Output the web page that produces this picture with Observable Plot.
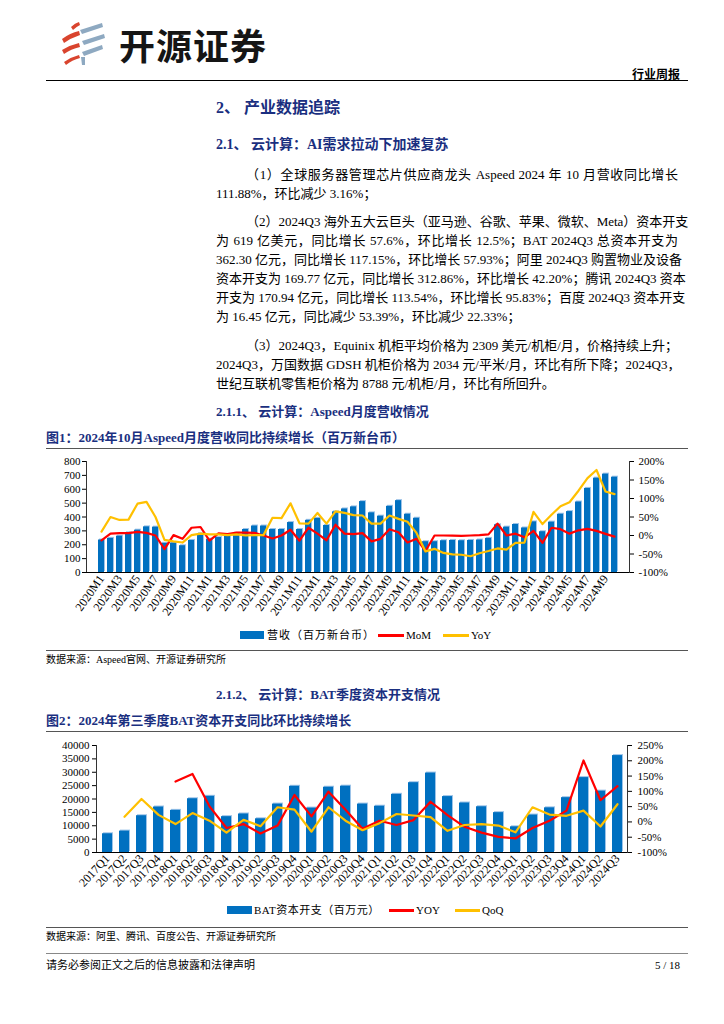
<!DOCTYPE html>
<html><head><meta charset="utf-8">
<script src="https://cdn.jsdelivr.net/npm/d3@7"></script>
<script src="https://cdn.jsdelivr.net/npm/@observablehq/plot@0.6"></script>
<style>
body{margin:0;background:#fff;}
#page{position:relative;width:724px;height:1024px;overflow:hidden;font-family:"Liberation Serif","Noto Sans CJK SC",serif;color:#000;background:#fff;}
.abs{position:absolute;white-space:nowrap;}
.h{color:#1a2f80;font-weight:bold;}
.p{position:absolute;left:216px;width:462px;font-size:13px;line-height:19px;height:19px;white-space:nowrap;text-align:justify;text-align-last:justify;}
.p.ind{left:246px;width:432px;}
.p.last{text-align-last:left;}
.rule{position:absolute;left:46px;width:642px;height:0;}
.lg{position:absolute;font-size:11px;line-height:14px;white-space:nowrap;font-family:"Liberation Serif","Noto Sans CJK SC",serif;}
</style></head>
<body><div id="page">
<svg class="abs" style="left:58px;top:20px" width="56" height="46" viewBox="0 0 56 46">
  <path d="M13 7 Q17 3 21 2 L22 5 Q18 7 15 10 Z" fill="#d9442e"/>
  <path d="M4 19 Q12 13 21 11 L22 15 Q13 18 6 23 Z" fill="#d9442e"/>
  <path d="M4 30 Q12 25 21 23 L22 27 Q13 29 6 34 Z" fill="#d9442e"/>
  <path d="M6 42 Q13 37 21 35 L22 38 Q14 40 8 45 Z" fill="#d9442e"/>
  <path d="M22 10 L44 3 L45 7 L24 14 Z" fill="#8ea9c1"/>
  <path d="M24 21 L46 14 L47 18 L26 25 Z" fill="#8ea9c1"/>
  <path d="M24 32 L44 25 L45 29 L26 36 Z" fill="#8ea9c1"/>
  <path d="M23 37 L27 37 L27 45 L24 45 Z" fill="#8ea9c1"/>
</svg>
<div class="abs" style="left:119px;top:24px;font-size:36px;line-height:40px;font-weight:bold;font-family:'Noto Sans CJK SC';color:#151515;letter-spacing:1px">开源证券</div>
<div class="abs" style="left:632px;top:66px;font-size:12px;line-height:16px;font-weight:bold;font-family:'Noto Sans CJK SC'">行业周报</div>
<div class="rule" style="top:80px;border-top:1.5px solid #000"></div>

<div class="abs h" style="left:216px;top:97px;font-size:16px;line-height:22px">2、 产业数据追踪</div>
<div class="abs h" style="left:216px;top:135px;font-size:14px;line-height:20px">2.1、 云计算：AI需求拉动下加速复苏</div>

<div class="p ind" style="top:165px">（1）全球服务器管理芯片供应商龙头 Aspeed 2024 年 10 月营收同比增长</div>
<div class="p last" style="top:184px">111.88%，环比减少 3.16%；</div>

<div class="p ind" style="top:212px">（2）2024Q3 海外五大云巨头（亚马逊、谷歌、苹果、微软、Meta）资本开支</div>
<div class="p" style="top:231px">为 619 亿美元，同比增长 57.6%，环比增长 12.5%；BAT 2024Q3 总资本开支为</div>
<div class="p" style="top:250px">362.30 亿元，同比增长 117.15%，环比增长 57.93%；阿里 2024Q3 购置物业及设备</div>
<div class="p" style="top:269px">资本开支为 169.77 亿元，同比增长 312.86%，环比增长 42.20%；腾讯 2024Q3 资本</div>
<div class="p" style="top:288px">开支为 170.94 亿元，同比增长 113.54%，环比增长 95.83%；百度 2024Q3 资本开支</div>
<div class="p last" style="top:307px">为 16.45 亿元，同比减少 53.39%，环比减少 22.33%；</div>

<div class="p ind" style="top:336px">（3）2024Q3，Equinix 机柜平均价格为 2309 美元/机柜/月，价格持续上升；</div>
<div class="p" style="top:355px">2024Q3，万国数据 GDSH 机柜价格为 2034 元/平米/月，环比有所下降；2024Q3，</div>
<div class="p last" style="top:374px">世纪互联机零售柜价格为 8788 元/机柜/月，环比有所回升。</div>

<div class="abs h" style="left:216px;top:402px;font-size:13px;line-height:20px">2.1.1、 云计算：Aspeed月度营收情况</div>
<div class="abs h" style="left:46px;top:428px;font-size:13px;line-height:20px">图1：2024年10月Aspeed月度营收同比持续增长（百万新台币）</div>
<div class="rule" style="top:448px;border-top:1px solid #555"></div>
<div id="c1" class="abs" style="left:46px;top:450px"></div>
<div class="lg" style="left:240px;top:631px;width:24px;height:8px;background:#0070C0"></div>
<div class="lg" style="left:267px;top:628px;letter-spacing:1px">营收（百万新台币）</div>
<div class="lg" style="left:378px;top:634px;width:26px;height:2.5px;background:#FF0000"></div>
<div class="lg" style="left:406px;top:628px">MoM</div>
<div class="lg" style="left:443px;top:634px;width:26px;height:2.5px;background:#FFC000"></div>
<div class="lg" style="left:471px;top:628px">YoY</div>
<div class="rule" style="top:650px;border-top:1px solid #555"></div>
<div class="abs" style="left:46px;top:653px;font-size:10px;line-height:14px">数据来源：Aspeed官网、开源证券研究所</div>

<div class="abs h" style="left:216px;top:685px;font-size:13px;line-height:20px">2.1.2、 云计算：BAT季度资本开支情况</div>
<div class="abs h" style="left:46px;top:711px;font-size:13px;line-height:20px">图2：2024年第三季度BAT资本开支同比环比持续增长</div>
<div class="rule" style="top:731px;border-top:1px solid #555"></div>
<div id="c2" class="abs" style="left:46px;top:735px"></div>
<div class="lg" style="left:227px;top:906px;width:25px;height:8px;background:#0070C0"></div>
<div class="lg" style="left:254px;top:903px;letter-spacing:0.5px">BAT资本开支（百万元）</div>
<div class="lg" style="left:389px;top:909px;width:25px;height:2.5px;background:#FF0000"></div>
<div class="lg" style="left:416px;top:903px">YOY</div>
<div class="lg" style="left:455px;top:909px;width:25px;height:2.5px;background:#FFC000"></div>
<div class="lg" style="left:482px;top:903px">QoQ</div>
<div class="rule" style="top:927px;border-top:1px solid #555"></div>
<div class="abs" style="left:46px;top:930px;font-size:10px;line-height:14px">数据来源：阿里、腾讯、百度公告、开源证券研究所</div>

<div class="rule" style="top:953px;border-top:1px solid #888"></div>
<div class="abs" style="left:46px;top:958px;font-size:11px;line-height:15px">请务必参阅正文之后的信息披露和法律声明</div>
<div class="abs" style="left:640px;top:958px;width:40px;text-align:right;font-size:11px;line-height:15px">5 / 18</div>
</div>
<script>
// ---------- Chart 1: Aspeed monthly revenue ----------
const months = ["2020M1","2020M2","2020M3","2020M4","2020M5","2020M6","2020M7","2020M8","2020M9","2020M10","2020M11","2020M12",
"2021M1","2021M2","2021M3","2021M4","2021M5","2021M6","2021M7","2021M8","2021M9","2021M10","2021M11","2021M12",
"2022M1","2022M2","2022M3","2022M4","2022M5","2022M6","2022M7","2022M8","2022M9","2022M10","2022M11","2022M12",
"2023M1","2023M2","2023M3","2023M4","2023M5","2023M6","2023M7","2023M8","2023M9","2023M10","2023M11","2023M12",
"2024M1","2024M2","2024M3","2024M4","2024M5","2024M6","2024M7","2024M8","2024M9","2024M10"];
const monthLabels = ["2020M1","2020M3","2020M5","2020M7","2020M9","2020M11","2021M1","2021M3","2021M5","2021M7","2021M9","2021M11",
"2022M1","2022M3","2022M5","2022M7","2022M9","2022M11","2023M1","2023M3","2023M5","2023M7","2023M9","2023M11",
"2024M1","2024M3","2024M5","2024M7","2024M9"];
const revenue = [234,246,262,286,305,329,327,210,212,193,231,279,
240,252,262,283,310,335,335,310,310,360,310,376,
390,339,437,458,473,511,430,406,477,518,420,391,
222,222,229,231,229,231,234,246,344,327,346,321,
365,294,363,420,439,508,606,680,709,687];
const momPct = [-13,5,6.5,6.5,10,7,0,-37,1,-9,21,23,
-14,5.6,4,8,8,7,0,-8,0,15.5,-14,21,
5,-13,29,5,3.5,6.5,-16,-9,17,9,-19,-9,
-42,0,0,-0.5,-1,0,1,3,32,0,5,-5,
12.5,-20,21,17,5,14,18,12.5,4.5,-3.16];
const yoyPct = [10.6,50,42,43,86,91,50,-12,-16,-19,1,5,
3,3,1,3,0.5,1,1,48,47,87,33,32,
61,32,65,61,55,54,32,32,54,45,37,7,
-43,-36,-47,-51,-52,-56,-48,-42,-35,-38,-20,-19,
64,31,56,79,90,121,155,177,119,111.88];
const revTicks = [0,100,200,300,400,500,600,700,800];
const pctTicks1 = [-100,-50,0,50,100,150,200];

// ---------- Chart 2: BAT quarterly capex ----------
const quarters = ["2017Q1","2017Q2","2017Q3","2017Q4","2018Q1","2018Q2","2018Q3","2018Q4","2019Q1","2019Q2","2019Q3","2019Q4",
"2020Q1","2020Q2","2020Q3","2020Q4","2021Q1","2021Q2","2021Q3","2021Q4","2022Q1","2022Q2","2022Q3","2022Q4",
"2023Q1","2023Q2","2023Q3","2023Q4","2024Q1","2024Q2","2024Q3"];
const capex = [7000,8000,13750,17000,15750,20100,21000,13400,14400,12600,18100,24750,
16600,24400,24800,18100,17300,21750,26100,29700,20900,18500,17100,14900,
9600,14000,16700,20500,28000,22940,36230];
const capexYoy = [null,null,null,null,132,157,51,-20,-7,-38,-12,88,
18,99,40,-22,4,-10,6,66,22,-16,-35,-49,
-54,-20,4,37,201,71,117.15];
const capexQoq = [null,17,75,23,-7,29,4,-35,7,-14,48,40,
-32,48,4,-27,-4,26,21,16,-29,-10,-7,-12,
-34,48,24,20,37,-15,57.93];
const capexTicks = [0,5000,10000,15000,20000,25000,30000,35000,40000];
const pctTicks2 = [-100,-50,0,50,100,150,200,250];

const BLUE = "#0070C0", EDGE = "#9cc3e8", RED = "#FF0000", GOLD = "#FFC000";
const baseStyle = {fontFamily: "'Liberation Serif', serif", fontSize: "11px", color: "#000", background: "transparent", overflow: "visible"};

// chart 1
const L1 = p => (p + 100) * 800 / 300;
const P1 = v => v * 300 / 800 - 100;
const rows1 = months.map((m, i) => ({m, rev: revenue[i], mom: momPct[i], yoy: yoyPct[i]}));
const chart1 = Plot.plot({
  width: 642, height: 172, marginLeft: 40, marginRight: 59, marginTop: 11, marginBottom: 50,
  style: baseStyle,
  x: {domain: months, type: "band", paddingInner: 0.36, paddingOuter: 0.18, axis: null, label: null},
  y: {domain: [0, 800], axis: null, label: null},
  marks: [
    Plot.barY(rows1, {x: "m", y: "rev", fill: EDGE, dx: 1, dy: -1}),
    Plot.barY(rows1, {x: "m", y: "rev", fill: BLUE}),
    Plot.line(rows1, {x: "m", y: d => L1(d.mom), stroke: RED, strokeWidth: 2.2}),
    Plot.line(rows1, {x: "m", y: d => L1(d.yoy), stroke: GOLD, strokeWidth: 2.2}),
    Plot.frame({anchor: "left", stroke: "#333"}),
    Plot.frame({anchor: "right", stroke: "#333"}),
    Plot.ruleY([0], {stroke: "#000"}),
    Plot.axisY({anchor: "left", ticks: revTicks, tickSize: 4, tickPadding: 2, label: null, fontSize: 11}),
    Plot.axisY({anchor: "right", ticks: pctTicks1.map(L1), tickFormat: v => Math.round(P1(v)) + "%", tickSize: 4, tickPadding: 5, label: null, fontSize: 11}),
    Plot.axisX({ticks: monthLabels, tickRotate: -55, tickSize: 0, tickPadding: 4, label: null, fontSize: 12})
  ]
});
document.getElementById("c1").appendChild(chart1);

// chart 2
const L2 = p => (p + 100) * 40000 / 350;
const P2 = v => v * 350 / 40000 - 100;
const rows2 = quarters.map((q, i) => ({q, cap: capex[i], yoy: capexYoy[i], qoq: capexQoq[i]}));
const chart2 = Plot.plot({
  width: 642, height: 167, marginLeft: 50, marginRight: 61, marginTop: 10, marginBottom: 50,
  style: baseStyle,
  x: {domain: quarters, type: "band", paddingInner: 0.42, paddingOuter: 0.21, axis: null, label: null},
  y: {domain: [0, 40000], axis: null, label: null},
  marks: [
    Plot.barY(rows2, {x: "q", y: "cap", fill: EDGE, dx: 1, dy: -1}),
    Plot.barY(rows2, {x: "q", y: "cap", fill: BLUE}),
    Plot.line(rows2, {x: "q", y: d => d.yoy == null ? NaN : L2(d.yoy), stroke: RED, strokeWidth: 2.2}),
    Plot.line(rows2, {x: "q", y: d => d.qoq == null ? NaN : L2(d.qoq), stroke: GOLD, strokeWidth: 2.2}),
    Plot.frame({anchor: "left", stroke: "#333"}),
    Plot.frame({anchor: "right", stroke: "#333"}),
    Plot.ruleY([0], {stroke: "#000"}),
    Plot.axisY({anchor: "left", ticks: capexTicks, tickFormat: d => String(d), tickSize: 4, tickPadding: 3, label: null, fontSize: 11}),
    Plot.axisY({anchor: "right", ticks: pctTicks2.map(L2), tickFormat: v => Math.round(P2(v)) + "%", tickSize: 4, tickPadding: 6, label: null, fontSize: 11}),
    Plot.axisX({ticks: quarters, tickRotate: -47, tickSize: 0, tickPadding: 4, label: null, fontSize: 12})
  ]
});
document.getElementById("c2").appendChild(chart2);
</script>
</body></html>
